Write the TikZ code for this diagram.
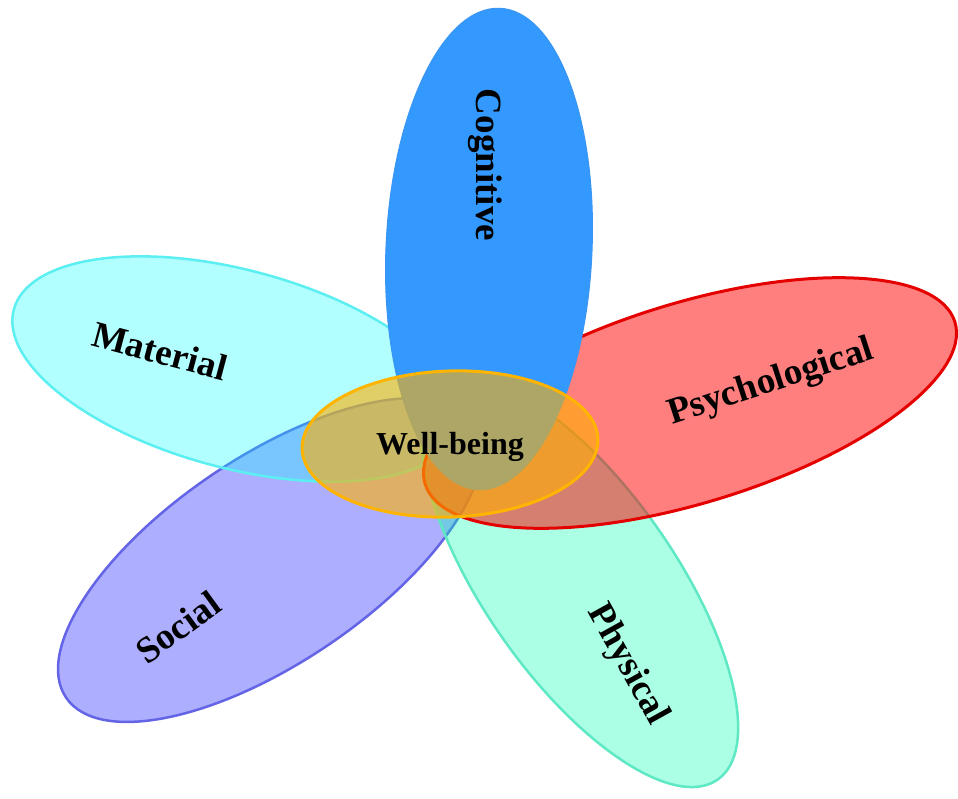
\documentclass[tikz,border=0pt]{standalone}
\usepackage{fontspec}
\setmainfont{Liberation Serif}
\usetikzlibrary{shapes.geometric}
\definecolor{socF}{HTML}{AEAEFF}
\definecolor{socB}{HTML}{6464E6}
\definecolor{phyF}{HTML}{00FFB0}
\definecolor{phyB}{HTML}{5EE8C4}
\definecolor{matF}{HTML}{00FFFF}
\definecolor{matB}{HTML}{5CEFF2}
\definecolor{psyF}{HTML}{FF0000}
\definecolor{psyB}{HTML}{E50000}
\definecolor{cogF}{HTML}{3399FF}
\definecolor{cogB}{HTML}{3A96F2}
\definecolor{wbF}{HTML}{FFB000}
\definecolor{wbB}{HTML}{FFB400}
\begin{document}
\begin{tikzpicture}[x=1pt,y=-1pt,
  petal/.style={ellipse, inner sep=0pt, outer sep=0pt, line width=2.5pt},
  lbl/.style={font=\fontsize{37}{40}\selectfont\bfseries, inner sep=0pt, text=black},
  wblbl/.style={font=\fontsize{32}{36}\selectfont\bfseries, inner sep=0pt, text=black}]
\fill[white] (0,0) rectangle (958,798);
\useasboundingbox (0,0) rectangle (958,798);
% petals
\node[petal, draw=socB, fill=socF, minimum width=492pt, minimum height=206pt, rotate=34] (social) at (270,560) {};
\node[petal, draw=phyB, fill=phyF, fill opacity=0.33, minimum width=480pt, minimum height=190pt, rotate=-55] (physical) at (580,583) {};
\node[petal, draw=matB, fill=matF, fill opacity=0.3, minimum width=460pt, minimum height=198pt, rotate=-15] (material) at (236,369) {};
\node[petal, draw=psyB, fill=psyF, fill opacity=0.5, line width=3pt, minimum width=554pt, minimum height=200pt, rotate=17] (psychological) at (690,403) {};
\node[petal, draw=cogB, fill=cogF, line width=1pt, minimum width=206pt, minimum height=482pt, rotate=-2.6] (cognitive) at (489,249) {};
\node[petal, draw=wbB, fill=wbF, fill opacity=0.6, line width=3pt, minimum width=296pt, minimum height=146pt, rotate=2] (wellbeing) at (450,444) {};
% labels
\node[lbl, rotate=-90] (tcog) at (485,165) {Cognitive};
\node[lbl, rotate=-15] (tmat) at (160,351) {Material};
\node[lbl, rotate=18] (tpsy) at (771,383) {Psychological};
\node[lbl, rotate=36] (tsoc) at (178,627) {Social};
\node[lbl, rotate=-61] (tphy) at (627,665) {Physical};
\node[wblbl] (twb) at (450,447) {Well-being};
\end{tikzpicture}
\end{document}
